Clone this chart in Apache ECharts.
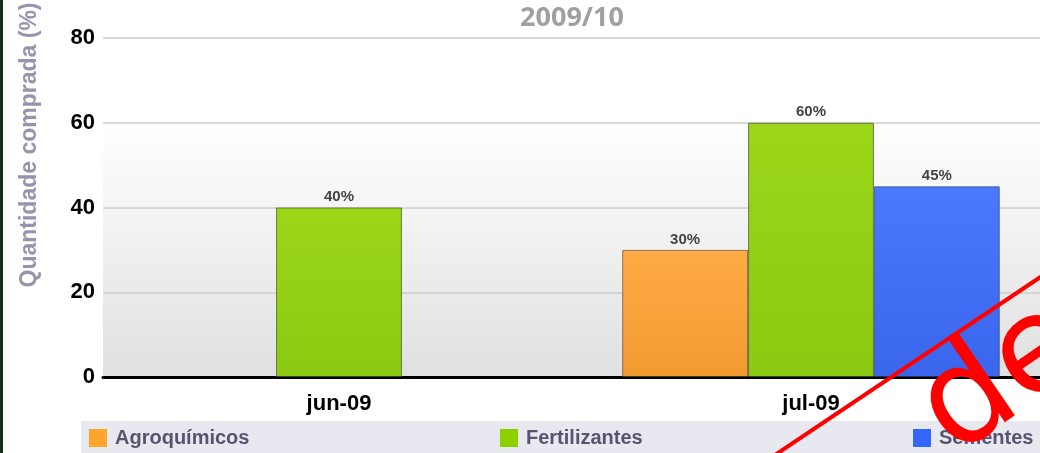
<!DOCTYPE html>
<html>
<head>
<meta charset="utf-8">
<script src="https://cdn.jsdelivr.net/npm/echarts@6/dist/echarts.min.js"></script>
<style>
  html, body { margin: 0; padding: 0; background: #fff; overflow: hidden; }
  /* a área do gráfico passa um pouco da borda direita, como no original */
  #chart { width: 1047px; height: 453px; }
</style>
</head>
<body>
<div id="chart"></div>
<script>
// categorias e valores (%)
const categories = ['jun-09', 'jul-09'];
const agroquimicos = [null, 30];
const fertilizantes = [40, 60];
const sementes = [null, 45];
const seriesNames = ['Agroquímicos', 'Fertilizantes', 'Sementes'];
const yTicks = [0, 20, 40, 60, 80];

const chart = echarts.init(document.getElementById('chart'));

const font = 'Liberation Sans, Arial, sans-serif';

function barFill(top, bottom) {
  return new echarts.graphic.LinearGradient(0, 0, 0, 1, [
    { offset: 0, color: top },
    { offset: 1, color: bottom },
  ]);
}

const labelOpt = {
  show: true,
  position: 'top',
  distance: 3,
  formatter: '{c}%',
  color: '#444',
  fontSize: 15,
  fontWeight: 'bold',
  fontFamily: font,
};

function legendAt(name, left, color) {
  return {
    data: [name],
    left: left,
    top: 428,
    icon: 'rect',
    itemWidth: 18,
    itemHeight: 18,
    padding: 0,
    selectedMode: false,
    itemStyle: { color: color, borderWidth: 0 },
    textStyle: {
      color: '#555570',
      fontSize: 20,
      fontWeight: 'bold',
      fontFamily: font,
      padding: [0, 0, 0, 3],
    },
  };
}

const option = {
  backgroundColor: '#fff',
  animation: false,
  title: {
    text: '2009/10',
    left: 567,
    top: 0,
    textAlign: 'center',
    textStyle: {
      color: '#a0a0a0',
      fontSize: 27,
      fontWeight: 'bold',
      fontFamily: 'Open Sans, sans-serif',
    },
  },
  graphic: [
    { type: 'rect', z: -1, shape: { x: 81, y: 421, width: 966, height: 32 }, style: { fill: '#e8e8f0' } },
    { type: 'rect', z: 100, shape: { x: 0, y: 0, width: 3, height: 453 }, style: { fill: '#14301a' } },
    {
      type: 'text',
      x: 30,
      y: 145,
      rotation: Math.PI / 2,
      style: {
        text: 'Quantidade comprada (%)',
        fill: '#9494ac',
        fontSize: 23,
        fontWeight: 'bold',
        fontFamily: font,
        align: 'center',
        verticalAlign: 'middle',
      },
    },
    // carimbo vermelho por cima
    { type: 'line', z: 100, shape: { x1: 775, y1: 455, x2: 1042, y2: 276 }, style: { stroke: '#ff0000', lineWidth: 4 } },
    {
      type: 'text',
      z: 100,
      x: 958,
      y: 462,
      rotation: 0.6,
      style: {
        text: 'de',
        x: 0,
        y: 26,
        fill: '#ff0000',
        fontSize: 135,
        fontFamily: 'DejaVu Sans, sans-serif',
        align: 'left',
        verticalAlign: 'bottom',
      },
    },
  ],
  legend: [
    legendAt(seriesNames[0], 89, '#ffa52e'),
    legendAt(seriesNames[1], 500, '#8fd000'),
    legendAt(seriesNames[2], 913, '#3366ff'),
  ],
  grid: {
    left: 103,
    right: 0,
    top: 38,
    bottom: 76,
    show: true,
    borderWidth: 0,
    backgroundColor: new echarts.graphic.LinearGradient(0, 0, 0, 1, [
      { offset: 0, color: '#ffffff' },
      { offset: 0.25, color: '#ffffff' },
      { offset: 1, color: '#e0e0e0' },
    ]),
  },
  xAxis: {
    type: 'category',
    data: categories,
    axisLine: { lineStyle: { color: '#000', width: 3 } },
    axisTick: { alignWithLabel: true, length: 7, lineStyle: { color: '#000', width: 2 } },
    axisLabel: {
      color: '#000',
      fontSize: 22,
      fontWeight: 'bold',
      fontFamily: font,
      margin: 16,
    },
  },
  yAxis: {
    type: 'value',
    min: yTicks[0],
    max: yTicks[yTicks.length - 1],
    interval: 20,
    axisLine: { show: false },
    axisTick: { show: false },
    splitLine: { lineStyle: { color: '#cccccc', width: 1.5 } },
    axisLabel: {
      color: '#000',
      fontSize: 22,
      fontWeight: 'bold',
      fontFamily: font,
      margin: 8,
    },
  },
  series: [
    {
      name: seriesNames[0],
      type: 'bar',
      data: agroquimicos,
      barGap: 0,
      barCategoryGap: '20%',
      itemStyle: { color: barFill('#ffab45', '#f19a30'), borderColor: 'rgba(60,40,20,0.55)', borderWidth: 1 },
      label: labelOpt,
    },
    {
      name: seriesNames[1],
      type: 'bar',
      data: fertilizantes,
      itemStyle: { color: barFill('#9bd618', '#8cc912'), borderColor: 'rgba(40,60,20,0.6)', borderWidth: 1 },
      label: labelOpt,
    },
    {
      name: seriesNames[2],
      type: 'bar',
      data: sementes,
      itemStyle: { color: barFill('#4a78ff', '#3a66ee'), borderColor: 'rgba(30,40,90,0.55)', borderWidth: 1 },
      label: labelOpt,
    },
  ],
};

chart.setOption(option);
</script>
</body>
</html>
